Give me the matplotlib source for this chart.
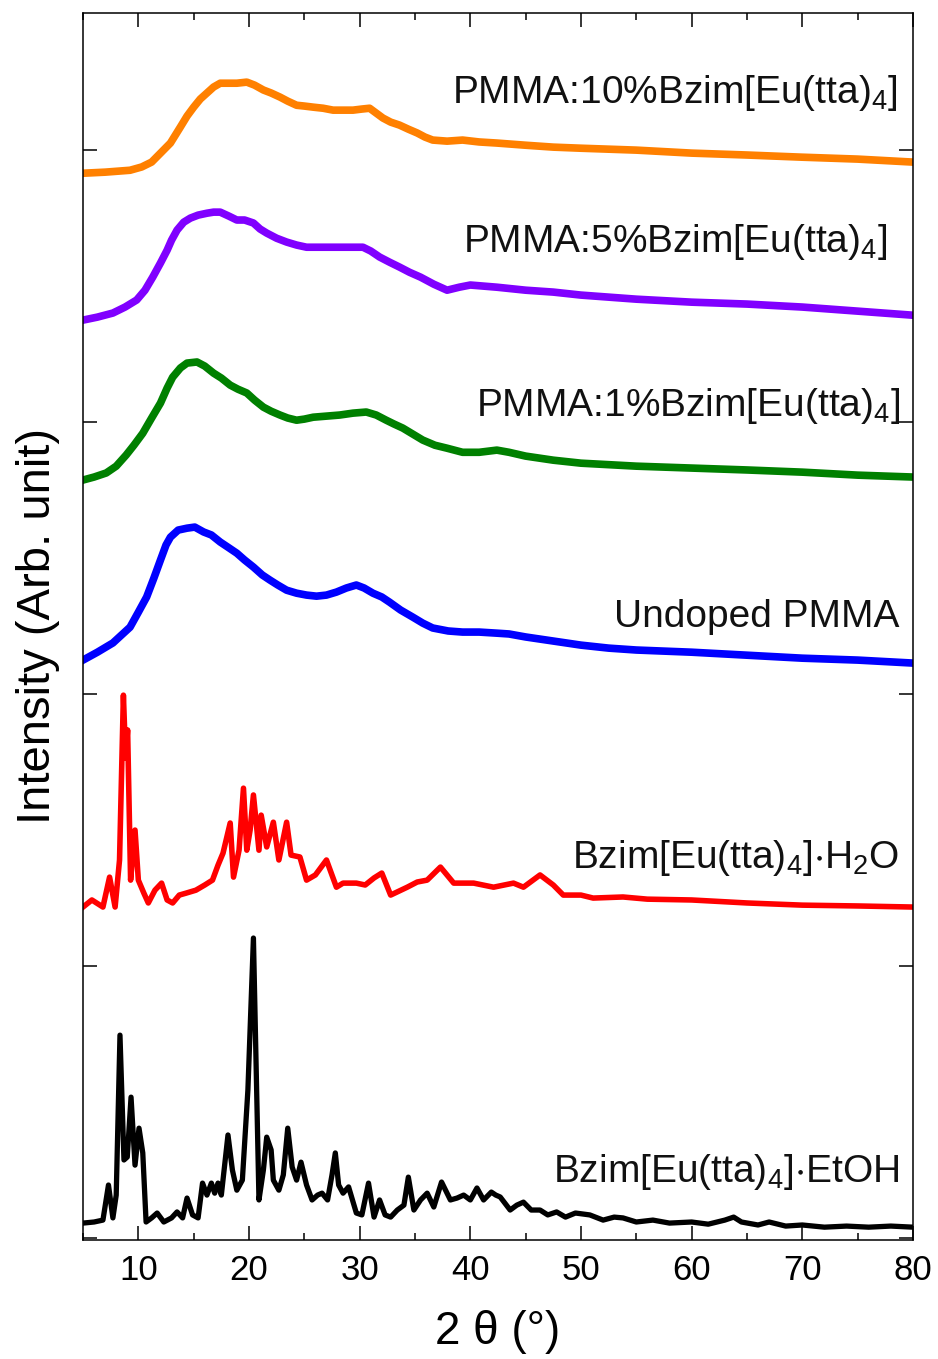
import matplotlib
matplotlib.use("Agg")
import matplotlib.pyplot as plt
from matplotlib.ticker import MultipleLocator

plt.rcParams['font.family'] = ['Liberation Sans', 'DejaVu Sans']
plt.rcParams['mathtext.fontset'] = 'custom'
plt.rcParams['mathtext.rm'] = 'Liberation Sans'
plt.rcParams['mathtext.it'] = 'Liberation Sans:italic'
plt.rcParams['mathtext.default'] = 'regular'

# stacked intensities (arb. unit)
x_etoh = [5.0, 6.0, 6.8, 7.3, 7.7, 8.0, 8.34, 8.7, 9.0, 9.34, 9.7, 10.06, 10.4, 10.7,
          11.2, 11.7, 12.3, 13.0, 13.5, 14.0, 14.4, 14.9, 15.4, 15.8, 16.2, 16.6, 16.9,
          17.2, 17.5, 18.1, 18.5, 18.9, 19.4, 19.9, 20.4, 20.9, 21.3, 21.6, 22.0, 22.2,
          22.7, 23.1, 23.5, 23.9, 24.3, 24.7, 25.2, 25.7, 26.2, 26.6, 27.1, 27.5, 27.8,
          28.1, 28.5, 29.0, 29.7, 30.2, 30.8, 31.3, 31.8, 32.3, 32.8, 33.4, 34.0, 34.4,
          34.9, 35.5, 36.1, 36.7, 37.4, 38.2, 38.8, 39.4, 40.0, 40.6, 41.2, 41.9, 42.3,
          42.7, 43.6, 44.2, 44.8, 45.5, 46.3, 47.0, 47.8, 48.6, 49.5, 50.8, 52.0, 53.0,
          53.8, 55.0, 56.5, 58.0, 60.0, 61.5, 63.0, 63.8, 64.5, 66.0, 67.0, 68.5, 70.0,
          72.0, 74.0, 76.0, 78.0, 80.0]
y_etoh = [5.5, 5.9, 6.6, 19.5, 7.4, 15.8, 74.6, 28.7, 29.8, 51.8, 26.8, 40.4, 31.3, 5.9,
          7.4, 9.2, 5.9, 7.4, 9.6, 7.4, 14.7, 8.5, 7.4, 20.2, 15.8, 20.2, 16.5,
          20.2, 15.8, 37.9, 25.0, 17.6, 21.3, 54.4, 110.3, 14.0, 25.0, 37.1, 32.4, 21.3,
          17.6, 23.2, 40.4, 26.1, 21.3, 27.9, 19.5, 14.0, 15.8, 16.5, 14.0, 23.2, 31.3,
          19.5, 16.5, 18.8, 9.2, 8.5, 20.2, 7.7, 14.0, 8.5, 7.7, 10.3, 12.1, 22.4,
          10.3, 14.0, 16.5, 11.4, 20.6, 14.0, 14.7, 15.8, 14.0, 18.4, 14.0, 16.9, 15.8,
          15.1, 10.3, 12.1, 13.2, 10.3, 10.3, 8.5, 9.6, 7.7, 9.2, 8.5, 6.6, 7.7,
          7.4, 5.9, 6.6, 5.5, 5.9, 5.1, 6.6, 7.7, 5.9, 4.8, 5.9, 4.4, 4.8,
          4.0, 4.4, 4.0, 4.4, 4.0]

x_h2o = [5.0, 5.8, 6.8, 7.4, 7.9, 8.3, 8.65, 8.85, 9.03, 9.3, 9.7, 10.0, 10.5, 10.9,
         11.5, 12.1, 12.6, 13.1, 13.7, 14.3, 15.2, 16.0, 16.7, 17.2, 17.65, 18.3, 18.6,
         19.1, 19.5, 19.8, 20.1, 20.4, 20.9, 21.1, 21.6, 22.2, 22.7, 23.4, 23.8, 24.6,
         25.2, 26.0, 27.0, 27.9, 28.5, 29.7, 30.5, 31.3, 32.0, 32.8, 34.3, 35.2, 36.1,
         37.3, 38.5, 40.3, 42.1, 43.9, 44.8, 46.3, 47.5, 48.4, 50.0, 51.1, 53.8, 56.0,
         60.0, 65.0, 70.0, 75.0, 80.0]
y_h2o = [121.7, 124.3, 121.7, 132.7, 121.7, 139.0, 199.6, 176.5, 186.8, 131.6, 150.0, 131.6, 126.8, 123.2,
         127.9, 130.5, 124.3, 123.2, 126.1, 126.8, 127.9, 129.8, 131.6, 137.1, 141.5, 152.6, 132.7,
         142.6, 165.4, 142.6, 150.0, 162.9, 142.6, 155.5, 143.8, 152.9, 139.0, 152.9, 140.8, 140.1,
         131.6, 133.5, 139.0, 129.0, 130.5, 130.5, 129.8, 132.4, 134.2, 126.1, 129.0, 130.9, 131.6,
         136.4, 130.5, 130.5, 129.0, 130.5, 129.0, 133.5, 129.8, 126.1, 126.1, 125.0, 125.4, 124.6,
         124.3, 123.2, 122.4, 122.1, 121.7]

x_undoped = [5.0, 6.3, 7.7, 9.25, 10.0, 10.75, 11.4, 12.0, 12.5, 12.9, 13.6, 14.4, 15.1, 15.9,
             16.6, 17.4, 18.1, 18.9, 19.6, 20.4, 21.2, 21.9, 22.6, 23.4, 24.3, 25.2, 26.1,
             27.0, 27.9, 28.8, 29.7, 30.4, 31.2, 32.0, 32.7, 33.7, 34.8, 35.7, 36.6, 38.0,
             39.3, 40.8, 42.4, 43.5, 45.0, 47.5, 50.0, 52.5, 55.0, 57.5, 60.0, 65.0, 70.0,
             75.0, 80.0]
y_undoped = [212.5, 215.4, 218.8, 224.6, 230.1, 235.7, 242.6, 249.3, 254.8, 257.7, 260.3, 261.0, 261.4, 259.6,
             258.5, 255.9, 254.0, 251.8, 249.3, 246.7, 243.8, 241.9, 240.1, 238.2, 237.1, 236.4, 236.0,
             236.4, 237.5, 239.0, 240.1, 239.0, 237.1, 235.7, 233.8, 230.9, 228.3, 226.1, 224.3, 223.2,
             222.8, 222.8, 222.4, 222.1, 221.0, 219.5, 218.0, 216.9, 216.2, 215.8, 215.4, 214.3, 213.2,
             212.5, 211.4]

x_1pct = [5.0, 6.0, 7.1, 8.0, 8.9, 9.6, 10.4, 11.2, 12.0, 12.6, 13.1, 13.8, 14.4, 15.3,
          16.0, 16.8, 17.5, 18.3, 19.0, 19.8, 20.5, 21.3, 22.0, 22.8, 23.5, 24.3, 25.0,
          25.8, 27.0, 28.2, 29.4, 30.6, 31.5, 32.4, 33.1, 33.9, 34.8, 35.7, 36.8, 37.9,
          39.3, 40.8, 42.4, 43.5, 45.0, 47.5, 50.0, 55.0, 60.0, 65.0, 70.0, 75.0, 80.0]
y_1pct = [278.7, 279.8, 281.3, 283.8, 287.9, 291.5, 295.9, 301.5, 307.0, 312.5, 316.5, 319.9, 321.7, 322.1,
          320.6, 318.0, 316.2, 313.6, 312.1, 310.7, 308.1, 305.5, 304.0, 302.6, 301.5, 300.7, 301.1,
          301.8, 302.2, 302.6, 303.3, 303.7, 302.6, 300.7, 299.3, 297.8, 295.6, 293.4, 291.5, 290.4,
          288.9, 288.9, 289.7, 288.9, 287.5, 286.0, 284.9, 283.8, 283.1, 282.4, 281.6, 280.5, 279.8]

x_5pct = [5.0, 6.3, 7.7, 8.8, 9.85, 10.6, 11.3, 12.0, 12.6, 13.0, 13.5, 14.1, 14.7, 15.4,
          16.2, 16.8, 17.4, 18.2, 18.9, 19.6, 20.4, 21.0, 21.6, 22.5, 23.4, 24.3, 25.2,
          26.4, 27.6, 29.0, 30.3, 31.0, 31.8, 32.7, 33.6, 34.5, 35.5, 36.7, 37.9, 39.0,
          40.0, 41.2, 42.4, 45.0, 47.5, 50.0, 55.0, 60.0, 65.0, 70.0, 75.0, 80.0]
y_5pct = [337.5, 338.6, 340.1, 342.3, 344.9, 348.5, 353.3, 358.5, 363.2, 366.9, 370.6, 373.5, 375.0, 376.1,
          376.8, 377.2, 377.2, 375.7, 374.3, 374.3, 373.2, 371.0, 369.5, 367.6, 366.2, 365.1, 364.3,
          364.3, 364.3, 364.3, 364.3, 362.9, 360.7, 358.8, 357.0, 355.1, 353.3, 350.7, 348.5, 349.6,
          350.4, 350.0, 349.6, 348.5, 347.8, 346.7, 345.2, 344.1, 343.4, 342.3, 340.8, 339.3]

x_10pct = [5.0, 7.0, 9.25, 10.3, 11.2, 12.1, 12.9, 13.8, 14.4, 15.0, 15.6, 16.2, 16.8, 17.4,
           18.1, 18.9, 19.8, 20.5, 21.3, 22.0, 22.8, 23.5, 24.3, 25.0, 25.8, 26.7, 27.6,
           28.5, 29.4, 30.2, 30.9, 31.5, 32.1, 32.8, 33.6, 34.4, 35.2, 35.9, 36.6, 37.9,
           39.3, 40.8, 42.4, 45.0, 47.5, 50.0, 55.0, 60.0, 65.0, 70.0, 75.0, 80.0]
y_10pct = [391.5, 391.9, 392.6, 393.8, 395.6, 399.3, 402.6, 408.5, 412.5, 415.8, 418.8, 421.0, 423.2, 424.6,
           424.6, 424.6, 425.0, 423.9, 422.1, 421.0, 419.5, 418.0, 416.5, 416.2, 415.8, 415.4, 414.7,
           414.7, 414.7, 415.1, 415.4, 413.6, 411.8, 410.3, 409.2, 407.7, 406.3, 404.8, 403.7, 403.3,
           403.7, 403.0, 402.6, 401.8, 401.1, 400.7, 400.0, 398.9, 398.2, 397.4, 396.7, 395.6]

labels = [r'Bzim[Eu(tta)$_4$]$\cdot$EtOH',
          r'Bzim[Eu(tta)$_4$]$\cdot$H$_2$O',
          'Undoped PMMA',
          r'PMMA:1%Bzim[Eu(tta)$_4$]',
          r'PMMA:5%Bzim[Eu(tta)$_4$]',
          r'PMMA:10%Bzim[Eu(tta)$_4$]']
label_x = [78.8, 78.8, 78.8, 78.8, 77.7, 78.6]
label_y = [20.6, 136.0, 224.6, 302.2, 362.5, 417.3]
colors = ['black', '#ff0000', '#0000ff', '#008000', '#8000ff', '#ff8000']

fig = plt.figure(figsize=(9.38, 13.59), dpi=100)
ax = fig.add_axes([0.0885, 0.0876, 0.8848, 0.9028])

ax.plot(x_etoh, y_etoh, color=colors[0], lw=3.8)
ax.plot(x_h2o, y_h2o, color=colors[1], lw=4)
ax.plot(x_undoped, y_undoped, color=colors[2], lw=5.5)
ax.plot(x_1pct, y_1pct, color=colors[3], lw=5.5)
ax.plot(x_5pct, y_5pct, color=colors[4], lw=5.5)
ax.plot(x_10pct, y_10pct, color=colors[5], lw=5.5)

for lab, lx, ly in zip(labels, label_x, label_y):
    ax.text(lx, ly, lab, ha='right', va='baseline', fontsize=28, color='#111111')

ax.set_xlim(5, 80)
ax.set_ylim(-0.7, 450.4)
ax.xaxis.set_major_locator(MultipleLocator(10))
ax.xaxis.set_minor_locator(MultipleLocator(5))
ax.yaxis.set_major_locator(MultipleLocator(100))
ax.set_yticklabels([])
ax.tick_params(which='both', direction='in', top=True, right=True, width=1.1)
ax.tick_params(which='major', length=10, labelsize=25, pad=10)
ax.tick_params(which='minor', length=5)
for sp in ax.spines.values():
    sp.set_linewidth(1.1)

fig.text(0.531, 0.020, '2 θ (°)', ha='center', va='center', fontsize=33)
fig.text(0.040, 0.539, 'Intensity (Arb. unit)', ha='center', va='center',
         rotation=90, fontsize=34)

plt.savefig('out.png', dpi=100)
